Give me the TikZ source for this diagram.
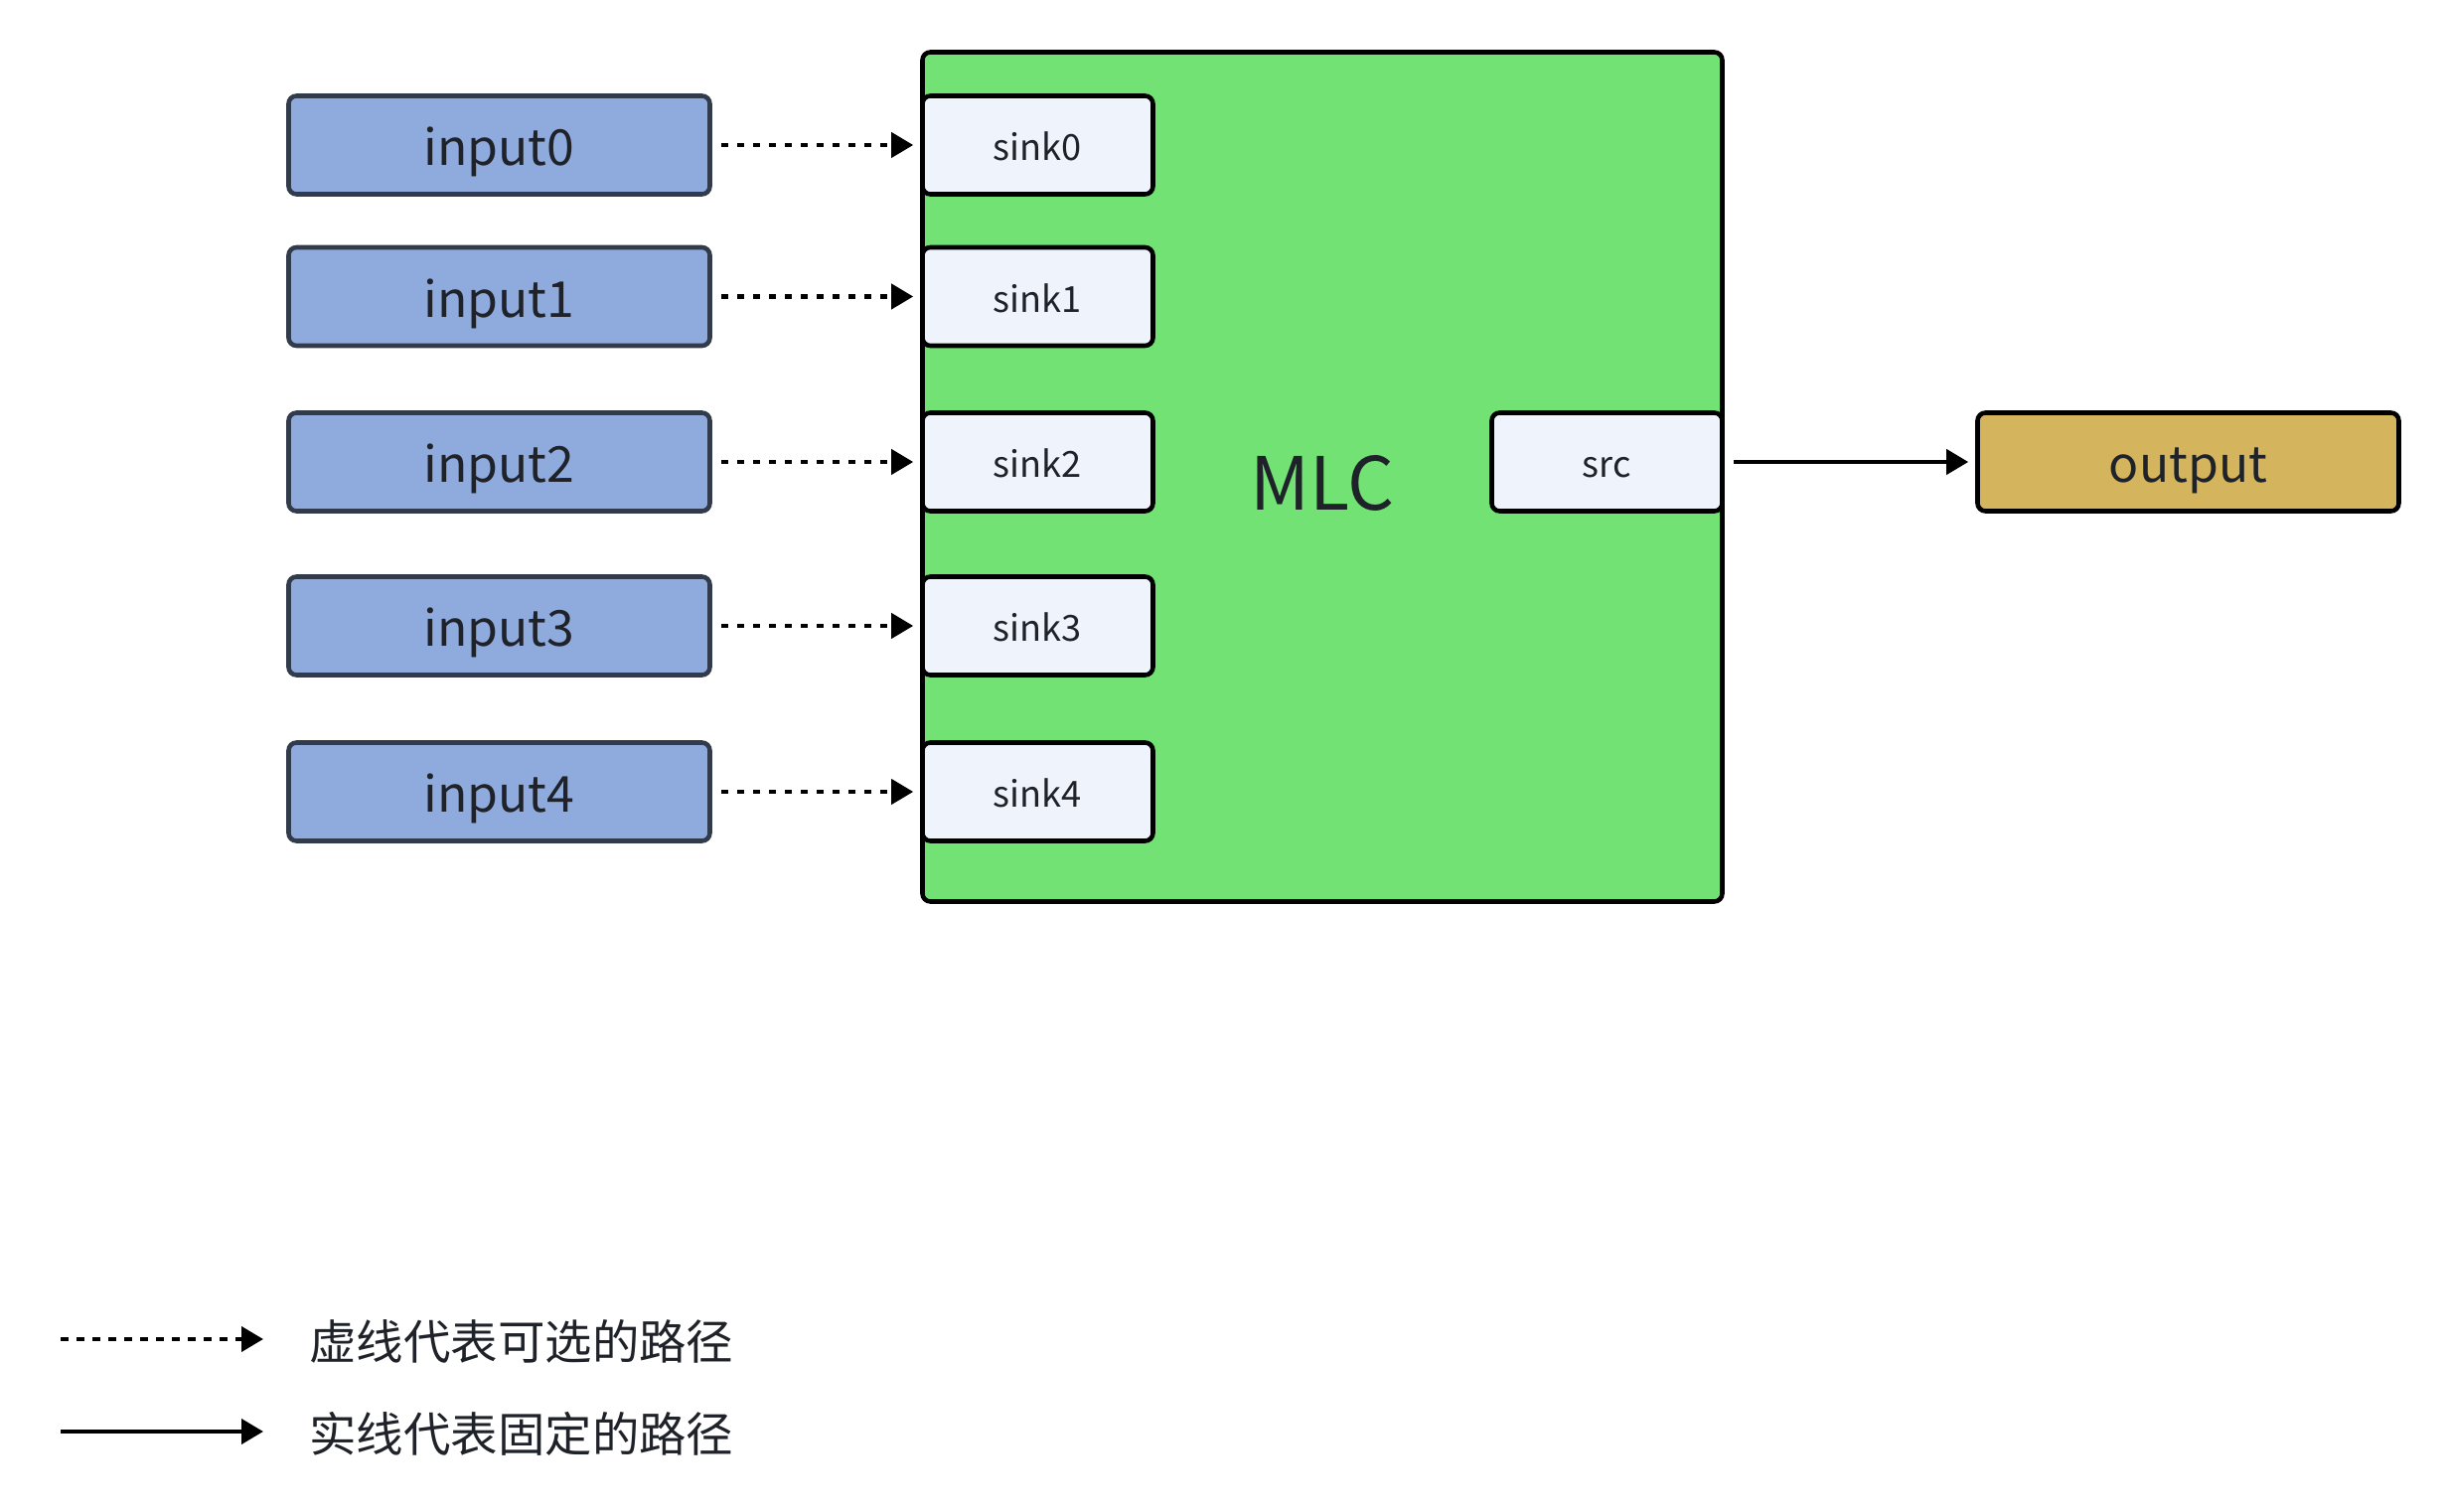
\documentclass[tikz,border=0pt]{standalone}
\usepackage{fontspec}
\setmainfont{Noto Sans CJK SC}
\usetikzlibrary{arrows.meta, positioning}

\definecolor{inblue}{HTML}{8FAADC}
\definecolor{inedge}{HTML}{323B4C}
\definecolor{mlcgreen}{HTML}{72E274}
\definecolor{portfill}{HTML}{EFF3FC}
\definecolor{outgold}{HTML}{D4B45C}
\definecolor{txt}{HTML}{1F2329}

\tikzset{
  inbox/.style={draw=inedge, fill=inblue, line width=1.3pt, rounded corners=0.08cm,
    minimum width=4.24cm, minimum height=0.99cm, text=txt,
    font=\fontsize{14.2}{17}\selectfont, text height=0.42cm, text depth=0cm},
  portbox/.style={draw=black, fill=portfill, line width=1.3pt, rounded corners=0.08cm,
    minimum width=2.32cm, minimum height=0.99cm, text=txt,
    font=\fontsize{10.3}{12}\selectfont, text height=0.32cm, text depth=0cm},
  outbox/.style={draw=black, fill=outgold, line width=1.3pt, rounded corners=0.08cm,
    minimum width=4.24cm, minimum height=0.99cm, text=txt,
    font=\fontsize{14.2}{17}\selectfont, text height=0.42cm, text depth=0cm},
  optional/.style={-{Triangle[length=0.22cm, width=0.25cm]}, line width=1.15pt,
    dash pattern=on 0.075cm off 0.085cm, shorten <=0.09cm, shorten >=0.07cm},
  fixed/.style={-{Triangle[length=0.22cm, width=0.25cm]}, line width=1.15pt,
    shorten <=0.09cm, shorten >=0.07cm},
  legendtext/.style={anchor=west, text=txt, font=\fontsize{13.5}{16}\selectfont}
}

\begin{document}
\begin{tikzpicture}
\useasboundingbox (0,0) rectangle (24.64,-15.22);
% MLC block
\node[draw=black, fill=mlcgreen, line width=1.3pt, rounded corners=0.08cm,
  minimum width=8.05cm, minimum height=8.55cm] (mlc) at (13.31,-4.80) {};
\node[text=txt, font=\fontsize{21}{24}\selectfont] (mlclabel) at (13.31,-4.86) {MLC};
% Inputs
\node[inbox] (input0) at (5.025,-1.46) {input0};
\node[inbox] (input1) at (5.025,-2.985) {input1};
\node[inbox] (input2) at (5.025,-4.65) {input2};
\node[inbox] (input3) at (5.025,-6.30) {input3};
\node[inbox] (input4) at (5.025,-7.97) {input4};
% Sinks
\node[portbox] (sink0) at (10.445,-1.46) {sink0};
\node[portbox] (sink1) at (10.445,-2.985) {sink1};
\node[portbox] (sink2) at (10.445,-4.65) {sink2};
\node[portbox] (sink3) at (10.445,-6.30) {sink3};
\node[portbox] (sink4) at (10.445,-7.97) {sink4};
% Source and output
\node[portbox] (src) at (16.175,-4.65) {src};
\node[outbox] (output) at (22.025,-4.65) {output};
% Draw paths
\draw[optional] (input0) -- (sink0);
\draw[optional] (input1) -- (sink1);
\draw[optional] (input2) -- (sink2);
\draw[optional] (input3) -- (sink3);
\draw[optional] (input4) -- (sink4);
\draw[fixed] (src) -- (output);
% Legend
\coordinate (dashstart) at (0.61,-13.48);
\coordinate (dashend) at (2.65,-13.48);
\coordinate (solidstart) at (0.61,-14.41);
\coordinate (solidend) at (2.65,-14.41);
\draw[optional, shorten <=0pt, shorten >=0pt] (dashstart) -- (dashend);
\draw[fixed, shorten <=0pt, shorten >=0pt] (solidstart) -- (solidend);
\node[legendtext] (dashnote) at (2.99,-13.50) {虚线代表可选的路径};
\node[legendtext] (solidnote) at (2.99,-14.43) {实线代表固定的路径};
\end{tikzpicture}
\end{document}
